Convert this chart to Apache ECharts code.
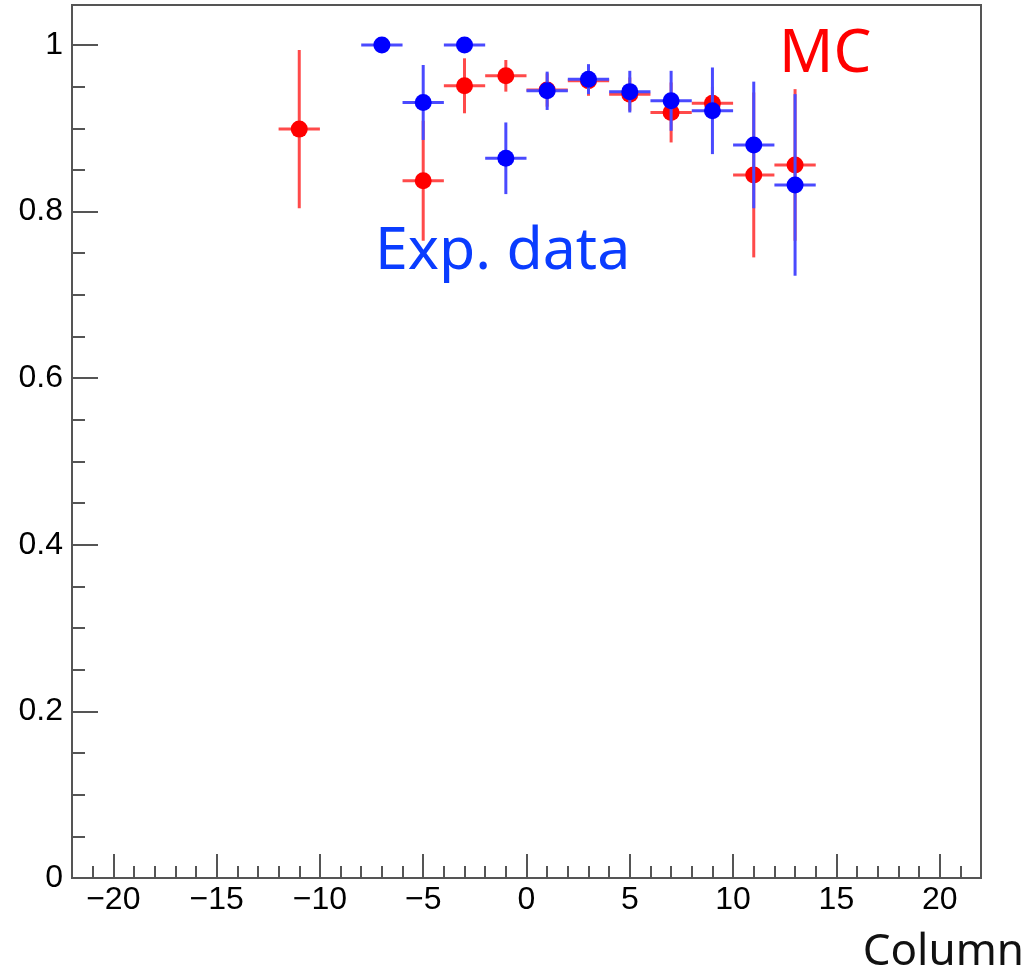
<!DOCTYPE html>
<html><head><meta charset="utf-8">
<script src="https://cdn.jsdelivr.net/npm/echarts@6/dist/echarts.min.js"></script>
<style>html,body{margin:0;padding:0;background:#fff}#c{width:1028px;height:972px}</style>
</head><body><div id="c"></div>
<script>
// ---- data ----
const binHalfWidth = 1;
const mcColumns = [-11, -5, -3, -1, 1, 3, 5, 7, 9, 11, 13];
const mcEff     = [0.899, 0.837, 0.951, 0.963, 0.946, 0.957, 0.941, 0.919, 0.930, 0.844, 0.856];
const mcErr     = [0.095, 0.072, 0.033, 0.019, 0.020, 0.018, 0.020, 0.036, 0.020, 0.099, 0.091];
const expColumns = [-7, -5, -3, -1, 1, 3, 5, 7, 9, 11, 13];
const expEff     = [1.000, 0.931, 1.000, 0.864, 0.945, 0.959, 0.944, 0.933, 0.921, 0.880, 0.832];
const expErr     = [0.000, 0.045, 0.000, 0.043, 0.023, 0.018, 0.025, 0.036, 0.052, 0.076, 0.109];
const xRange = [-22, 22];
const yRange = [0, 1.048];
const xAxisTitle = 'Column';
const mcLabel = 'MC';
const expLabel = 'Exp. data';

const chart = echarts.init(document.getElementById('c'), null, {renderer: 'canvas'});
const axisColor = '#555';
const labelFont = 'Liberation Sans';
const minusFmt = v => (v < 0 ? '\u2212' + Math.abs(v) : String(v));

function errSeries(xs, ys, es, color, z) {
  return {
    type: 'custom', z: z, silent: true,
    data: xs.map((x, i) => [x, ys[i], es[i]]),
    renderItem(params, api) {
      const x = api.value(0), y = api.value(1), e = api.value(2);
      const pL = api.coord([x - binHalfWidth, y]), pR = api.coord([x + binHalfWidth, y]);
      const children = [{type: 'line', shape: {x1: pL[0], y1: pL[1], x2: pR[0], y2: pR[1]},
        style: {stroke: color, lineWidth: 3}}];
      if (e > 0) {
        const pT = api.coord([x, y + e]), pB = api.coord([x, y - e]);
        children.push({type: 'line', shape: {x1: pT[0], y1: pT[1], x2: pB[0], y2: pB[1]},
          style: {stroke: color, lineWidth: 3}});
      }
      return {type: 'group', children: children};
    }
  };
}
function dotSeries(xs, ys, color, z) {
  return {type: 'scatter', z: z, silent: true, symbol: 'circle', symbolSize: 17,
    itemStyle: {color: color, opacity: 1},
    data: xs.map((x, i) => [x, ys[i]])};
}

chart.setOption({
  animation: false,
  backgroundColor: '#fff',
  grid: {left: 72, right: 47, top: 5, bottom: 94, show: true, borderColor: axisColor, borderWidth: 2},
  xAxis: [
    {type: 'value', min: xRange[0], max: xRange[1], minInterval: 5, maxInterval: 5, position: 'bottom',
     axisLine: {show: true, onZero: false, lineStyle: {color: axisColor, width: 2}},
     axisTick: {show: true, inside: true, length: 24, lineStyle: {color: axisColor, width: 2}},
     axisLabel: {showMinLabel: false, showMaxLabel: false, margin: 6, fontSize: 32, fontFamily: labelFont,
       color: '#000', formatter: minusFmt},
     splitLine: {show: false}},
    {type: 'value', min: xRange[0], max: xRange[1], interval: 1, position: 'bottom',
     axisLine: {show: false, onZero: false},
     axisTick: {show: true, inside: true, length: 12, lineStyle: {color: axisColor, width: 2}},
     axisLabel: {show: false}, splitLine: {show: false}}
  ],
  yAxis: [
    {type: 'value', min: yRange[0], max: yRange[1], minInterval: 0.2, maxInterval: 0.2, position: 'left',
     axisLine: {show: true, onZero: false, lineStyle: {color: axisColor, width: 2}},
     axisTick: {show: true, inside: true, length: 26, lineStyle: {color: axisColor, width: 2}},
     axisLabel: {showMaxLabel: false, margin: 9, fontSize: 32, fontFamily: labelFont, color: '#000'},
     splitLine: {show: false}},
    {type: 'value', min: yRange[0], max: yRange[1], interval: 0.05, position: 'left',
     axisLine: {show: false, onZero: false},
     axisTick: {show: true, inside: true, length: 13, lineStyle: {color: axisColor, width: 2}},
     axisLabel: {show: false}, splitLine: {show: false}}
  ],
  series: [
    errSeries(mcColumns, mcEff, mcErr, '#ff4a4a', 2),
    dotSeries(mcColumns, mcEff, '#ff0000', 3),
    errSeries(expColumns, expEff, expErr, '#4a4aff', 4),
    dotSeries(expColumns, expEff, '#0000ff', 5)
  ],
  graphic: [
    {type: 'text', x: 779, y: 55, style: {text: mcLabel, fill: '#ff0000', fontSize: 60, fontFamily: 'Noto Sans', verticalAlign: 'middle'}},
    {type: 'text', x: 375, y: 252, style: {text: expLabel, fill: '#0a3cff', fontSize: 59, fontFamily: 'Noto Sans', verticalAlign: 'middle'}},
    {type: 'text', x: 1024, y: 952, style: {text: xAxisTitle, fill: '#111', fontSize: 44, fontFamily: 'Noto Sans', align: 'right', verticalAlign: 'middle'}}
  ]
});
</script></body></html>
